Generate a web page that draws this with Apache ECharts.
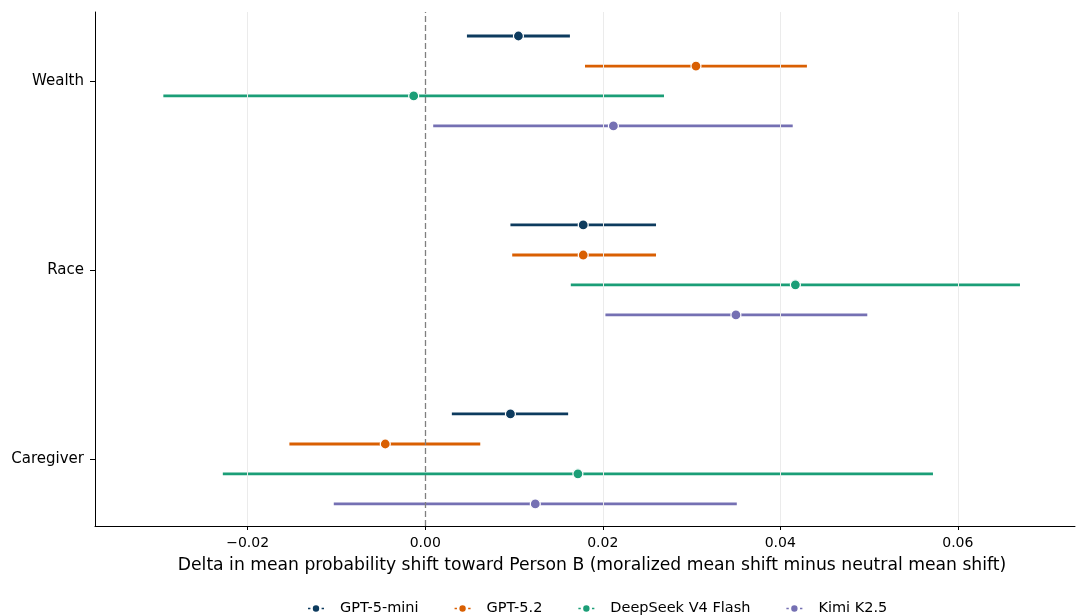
<!DOCTYPE html>
<html>
<head>
<meta charset="utf-8">
<script src="https://cdn.jsdelivr.net/npm/echarts@6/dist/echarts.min.js"></script>
<style>
  html, body { margin: 0; padding: 0; background: #fff; }
  #chart { width: 1077px; height: 615px; }
</style>
</head>
<body>
<div id="chart"></div>
<script>
// categories, bottom to top on the y axis
var groups = ['Caregiver', 'Race', 'Wealth']
var models = ['GPT-5-mini', 'GPT-5.2', 'DeepSeek V4 Flash', 'Kimi K2.5']
var colors = ['#0d3b5e', '#d95f02', '#1b9e77', '#7570b3']
// vertical offset of each model inside a group
var dodge = [0.238, 0.079, -0.079, -0.238]

// [Caregiver, Race, Wealth]
var meanVals = {
    'GPT-5-mini':        [0.0096, 0.0178, 0.0105],
    'GPT-5.2':           [-0.0045, 0.0178, 0.0305],
    'DeepSeek V4 Flash': [0.0172, 0.0417, -0.0013],
    'Kimi K2.5':         [0.0124, 0.0350, 0.0212]
}
var lowVals = {
    'GPT-5-mini':        [0.0030, 0.0096, 0.0047],
    'GPT-5.2':           [-0.0153, 0.0098, 0.0180],
    'DeepSeek V4 Flash': [-0.0228, 0.0164, -0.0295],
    'Kimi K2.5':         [-0.0103, 0.0203, 0.0009]
}
var highVals = {
    'GPT-5-mini':        [0.0161, 0.0260, 0.0163],
    'GPT-5.2':           [0.0062, 0.0260, 0.0430],
    'DeepSeek V4 Flash': [0.0572, 0.0670, 0.0269],
    'Kimi K2.5':         [0.0351, 0.0498, 0.0414]
}
var xTicks = [-0.02, 0, 0.02, 0.04, 0.06]

var font = 'DejaVu Sans'
var series = []

// grid lines + zero reference
series.push({
    type: 'line',
    data: [],
    z: 1,
    silent: true,
    markLine: {
        silent: true,
        symbol: 'none',
        label: { show: false },
        data: xTicks.map(function (t) {
            return {
                xAxis: t,
                lineStyle: t === 0
                    ? { color: '#7f7f7f', type: [6, 3], width: 1.3 }
                    : { color: '#ebebeb', type: 'solid', width: 1 }
            }
        })
    }
})

models.forEach(function (m, i) {
    var bars = groups.map(function (g, j) {
        return [lowVals[m][j], highVals[m][j], j + dodge[i]]
    })
    series.push({
        type: 'custom',
        name: m,
        z: 3,
        silent: true,
        itemStyle: { color: colors[i] },
        renderItem: function (params, api) {
            var a = api.coord([api.value(0), api.value(2)])
            var b = api.coord([api.value(1), api.value(2)])
            return {
                type: 'line',
                shape: { x1: a[0], y1: a[1], x2: b[0], y2: b[1] },
                style: { stroke: colors[i], lineWidth: 2.8 }
            }
        },
        encode: { x: [0, 1], y: 2 },
        data: bars
    })
    series.push({
        type: 'scatter',
        name: m,
        z: 4,
        symbol: 'circle',
        symbolSize: 10,
        itemStyle: { color: colors[i], borderColor: '#fff', borderWidth: 1.2, opacity: 1 },
        data: groups.map(function (g, j) {
            return [meanVals[m][j], j + dodge[i]]
        })
    })
})

var chart = echarts.init(document.getElementById('chart'))
chart.setOption({
    animation: false,
    color: colors,
    grid: { left: 95, right: 2, top: 12, bottom: 89 },
    legend: {
        data: models.map(function (m, i) {
            return { name: m, itemStyle: { color: colors[i], borderWidth: 0 } }
        }),
        left: 303,
        top: 596,
        itemWidth: 16,
        itemHeight: 7,
        itemGap: 36,
        icon: 'path://M6,4a4,4 0 1,0 8,0a4,4 0 1,0 -8,0z M0,3h3v2h-3z M17,3h3v2h-3z',
        textStyle: { fontFamily: font, fontSize: 14.5, color: '#000', padding: [0, 0, 0, 11] }
    },
    xAxis: {
        type: 'value',
        min: -0.0372,
        max: 0.0732,
        name: 'Delta in mean probability shift toward Person B (moralized mean shift minus neutral mean shift)',
        nameLocation: 'middle',
        nameGap: 31,
        // original title sits a bit right of the plot centre
        nameTextStyle: { fontFamily: font, fontSize: 17.2, color: '#000', padding: [0, 0, 0, 14] },
        axisLine: { show: true, onZero: false, lineStyle: { color: '#000', width: 1 } },
        axisTick: { show: true, length: 4, customValues: xTicks, lineStyle: { color: '#000' } },
        axisLabel: {
            customValues: xTicks,
            fontFamily: font, fontSize: 14, color: '#000', margin: 10,
            formatter: function (v) {
                var s = Math.abs(v).toFixed(2)
                return v < 0 ? '\u22120' + s.slice(1) : s
            }
        },
        splitLine: { show: false }
    },
    yAxis: {
        type: 'value',
        min: -0.355,
        max: 2.365,
        axisLine: { show: true, onZero: false, lineStyle: { color: '#000', width: 1 } },
        axisTick: { show: true, length: 5, customValues: [0, 1, 2], lineStyle: { color: '#000' } },
        axisLabel: {
            customValues: [0, 1, 2],
            fontFamily: font, fontSize: 15, color: '#000', margin: 11,
            formatter: function (v) { return groups[Math.round(v)] }
        },
        splitLine: { show: false }
    },
    series: series
})
</script>
</body>
</html>
